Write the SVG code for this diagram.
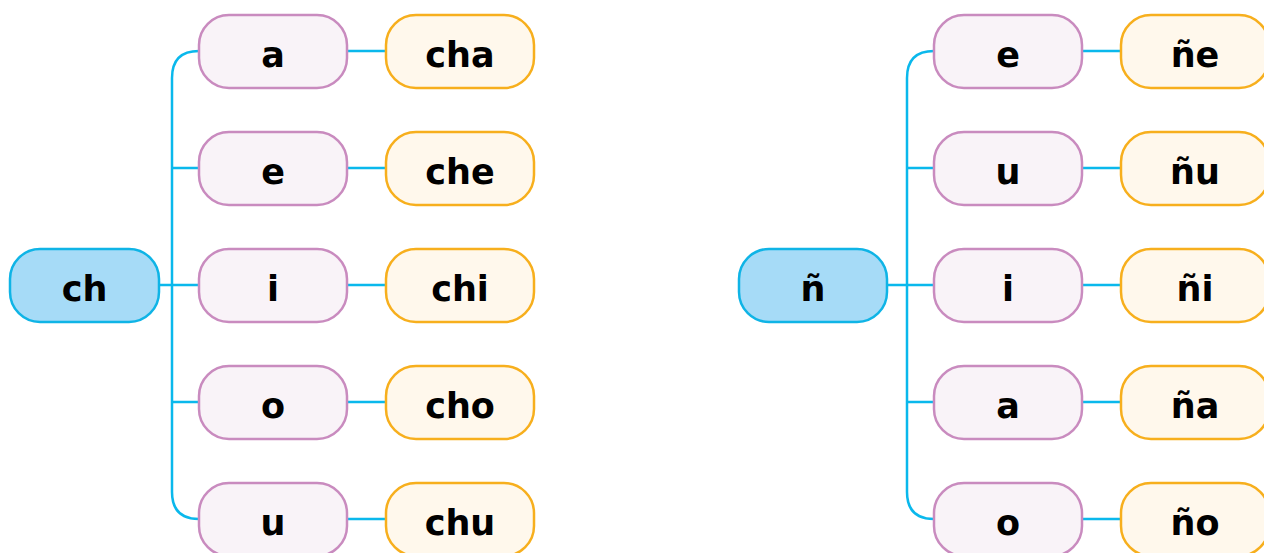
<svg xmlns="http://www.w3.org/2000/svg" width="1264" height="553" viewBox="0 0 1264 553">
<style>
.root rect{fill:#a6dbf7;stroke:#0fb4e6;stroke-width:2.5}
.child rect{fill:#f9f3f8;stroke:#c98bbf;stroke-width:2.5}
.leaf rect{fill:#fff8ec;stroke:#f7af1d;stroke-width:2.5}
text{font-family:"DejaVu Sans",sans-serif;font-weight:bold;font-size:35px;fill:#000;text-anchor:middle}
.conn path{fill:none;stroke:#0ab8ec;stroke-width:2.5}
</style>
<rect width="1264" height="553" fill="#fff"/>
<g class="conn">
<path d="M199,51 Q172,51 172,78 L172,492 Q172,519 199,519"/>
<path d="M159,285 H199 M172,168 H199 M172,402 H199"/>
<path d="M347,51 H386 M347,168 H386 M347,285 H386 M347,402 H386 M347,519 H386"/>
<path d="M934,51 Q907,51 907,78 L907,492 Q907,519 934,519"/>
<path d="M887,285 H934 M907,168 H934 M907,402 H934"/>
<path d="M1082,51 H1121 M1082,168 H1121 M1082,285 H1121 M1082,402 H1121 M1082,519 H1121"/>
</g>
<g id="root-ch" class="root"><rect x="10" y="249" width="149" height="73" rx="30"/><text x="84.5" y="301">ch</text></g>
<g id="c-a" class="child"><rect x="199" y="15" width="148" height="73" rx="30"/><text x="273" y="67">a</text></g>
<g id="c-e" class="child"><rect x="199" y="132" width="148" height="73" rx="30"/><text x="273" y="184">e</text></g>
<g id="c-i" class="child"><rect x="199" y="249" width="148" height="73" rx="30"/><text x="273" y="301">i</text></g>
<g id="c-o" class="child"><rect x="199" y="366" width="148" height="73" rx="30"/><text x="273" y="418">o</text></g>
<g id="c-u" class="child"><rect x="199" y="483" width="148" height="73" rx="30"/><text x="273" y="535">u</text></g>
<g id="l-cha" class="leaf"><rect x="386" y="15" width="148" height="73" rx="30"/><text x="460" y="67">cha</text></g>
<g id="l-che" class="leaf"><rect x="386" y="132" width="148" height="73" rx="30"/><text x="460" y="184">che</text></g>
<g id="l-chi" class="leaf"><rect x="386" y="249" width="148" height="73" rx="30"/><text x="460" y="301">chi</text></g>
<g id="l-cho" class="leaf"><rect x="386" y="366" width="148" height="73" rx="30"/><text x="460" y="418">cho</text></g>
<g id="l-chu" class="leaf"><rect x="386" y="483" width="148" height="73" rx="30"/><text x="460" y="535">chu</text></g>
<g id="root-n" class="root"><rect x="739" y="249" width="148" height="73" rx="30"/><text x="813" y="301">ñ</text></g>
<g id="c2-e" class="child"><rect x="934" y="15" width="148" height="73" rx="30"/><text x="1008" y="67">e</text></g>
<g id="c2-u" class="child"><rect x="934" y="132" width="148" height="73" rx="30"/><text x="1008" y="184">u</text></g>
<g id="c2-i" class="child"><rect x="934" y="249" width="148" height="73" rx="30"/><text x="1008" y="301">i</text></g>
<g id="c2-a" class="child"><rect x="934" y="366" width="148" height="73" rx="30"/><text x="1008" y="418">a</text></g>
<g id="c2-o" class="child"><rect x="934" y="483" width="148" height="73" rx="30"/><text x="1008" y="535">o</text></g>
<g id="l-ne" class="leaf"><rect x="1121" y="15" width="148" height="73" rx="30"/><text x="1195" y="67">ñe</text></g>
<g id="l-nu" class="leaf"><rect x="1121" y="132" width="148" height="73" rx="30"/><text x="1195" y="184">ñu</text></g>
<g id="l-ni" class="leaf"><rect x="1121" y="249" width="148" height="73" rx="30"/><text x="1195" y="301">ñi</text></g>
<g id="l-na" class="leaf"><rect x="1121" y="366" width="148" height="73" rx="30"/><text x="1195" y="418">ña</text></g>
<g id="l-no" class="leaf"><rect x="1121" y="483" width="148" height="73" rx="30"/><text x="1195" y="535">ño</text></g>
</svg>
